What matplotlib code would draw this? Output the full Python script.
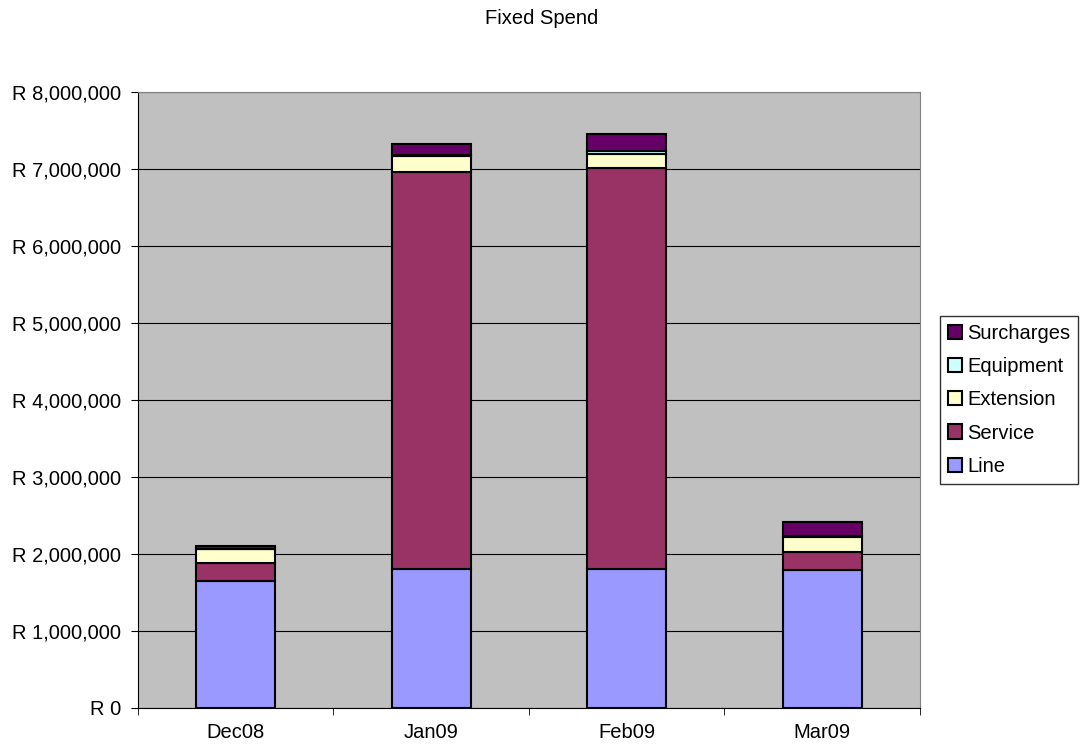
import numpy as np
import matplotlib
matplotlib.use("Agg")
import matplotlib.pyplot as plt
from matplotlib.ticker import FuncFormatter, FixedLocator

plt.rcParams['font.family'] = ['Liberation Sans', 'DejaVu Sans']

months = ['Dec08', 'Jan09', 'Feb09', 'Mar09']
line = [1650000, 1800000, 1800000, 1790000]
service = [230000, 5160000, 5210000, 240000]
extension = [180000, 210000, 190000, 190000]
equipment = [10000, 10000, 30000, 20000]
surcharges = [40000, 140000, 220000, 170000]

series = [
    ('Line', line, '#9999FF'),
    ('Service', service, '#993366'),
    ('Extension', extension, '#FFFFCC'),
    ('Equipment', equipment, '#CCFFFF'),
    ('Surcharges', surcharges, '#660066'),
]

fs = 14.5

fig = plt.figure(figsize=(10.83, 7.56), dpi=100)
ax = fig.add_axes([0.1274, 0.0635, 0.7221, 0.8148])
ax.set_facecolor('#C0C0C0')

x = np.arange(len(months))
bottom = np.zeros(len(months))
handles = []
for name, vals, color in series:
    b = ax.bar(x, vals, width=0.405, bottom=bottom, color=color,
               edgecolor='black', linewidth=1.5, label=name, zorder=3)
    handles.append(b)
    bottom += np.array(vals)

ax.set_xlim(-0.5, 3.5)
ax.set_ylim(0, 8000000)
ax.set_yticks(np.arange(0, 8000001, 1000000))
ax.yaxis.set_major_formatter(FuncFormatter(lambda v, p: 'R {:,.0f}'.format(v)))
ax.grid(axis='y', color='black', linewidth=0.8, zorder=1)

ax.set_xticks(x)
ax.set_xticklabels(months)
ax.tick_params(axis='x', which='major', length=0, pad=11)
ax.xaxis.set_minor_locator(FixedLocator([-0.5, 0.5, 1.5, 2.5, 3.5]))
ax.tick_params(axis='x', which='minor', length=5, direction='out', color='black')
ax.tick_params(axis='y', length=5, direction='out', pad=7)
ax.tick_params(labelsize=fs)

ax.spines['left'].set_color('black')
ax.spines['bottom'].set_color('black')
ax.spines['top'].set_color('#808080')
ax.spines['right'].set_color('#808080')

fig.text(0.5, 0.976, 'Fixed Spend', ha='center', va='center', fontsize=fs)

# legend lists the top segment first
leg = fig.legend(handles[::-1], [s[0] for s in series][::-1],
                 loc='center left', bbox_to_anchor=(0.868, 0.471),
                 fontsize=fs, frameon=True, fancybox=False, edgecolor='black',
                 handlelength=0.7, handleheight=0.7, handletextpad=0.25,
                 labelspacing=0.7, borderpad=0.4, borderaxespad=0)
leg.get_frame().set_linewidth(1)

fig.savefig('out.png', dpi=100)
